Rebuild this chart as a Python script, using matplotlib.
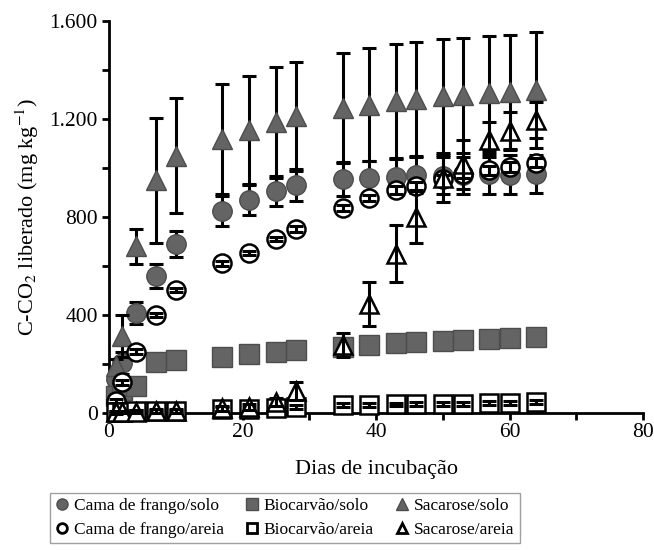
import matplotlib
matplotlib.use("Agg")
from matplotlib import pyplot as plt
from matplotlib.lines import Line2D
from matplotlib.ticker import MultipleLocator, FuncFormatter

plt.rcParams['font.family'] = ['Liberation Serif', 'DejaVu Serif']
plt.rcParams['mathtext.fontset'] = 'stix'

# dias de incubação
dias = [1, 2, 4, 7, 10, 17, 21, 25, 28, 35, 39, 43, 46, 50, 53, 57, 60, 64]

cama_solo = [140, 205, 410, 558, 690, 826, 869, 906, 930, 955, 959, 965, 970, 968, 970, 975, 972, 975]
cama_solo_err = [30, 45, 45, 49, 53, 61, 61, 61, 65, 70, 70, 72, 74, 75, 76, 80, 80, 78]

bio_solo = [70, 95, 110, 208, 218, 230, 241, 249, 257, 270, 277, 285, 288, 294, 297, 301, 305, 311]
bio_solo_err = [8, 8, 8, 10, 10, 10, 10, 10, 10, 12, 12, 12, 12, 12, 12, 12, 12, 12]

sac_solo = [190, 315, 680, 950, 1050, 1118, 1155, 1186, 1210, 1245, 1258, 1273, 1280, 1292, 1296, 1305, 1308, 1318]
sac_solo_err = [30, 85, 70, 255, 235, 226, 222, 225, 222, 226, 230, 232, 233, 233, 234, 235, 236, 236]

cama_areia = [50, 125, 250, 400, 502, 612, 653, 710, 751, 836, 877, 910, 926, 955, 975, 990, 1005, 1022]
cama_areia_err = [8, 10, 10, 10, 10, 10, 10, 10, 12, 12, 12, 15, 15, 18, 18, 20, 20, 20]

bio_areia = [5, 6, 7, 8, 9, 15, 17, 20, 25, 32, 33, 35, 36, 38, 38, 40, 41, 44]
bio_areia_err = [5, 5, 5, 5, 5, 8, 8, 8, 8, 8, 8, 8, 8, 8, 8, 8, 8, 8]

sac_areia = [3, 4, 6, 8, 10, 20, 25, 45, 90, 278, 445, 650, 800, 958, 1015, 1116, 1152, 1195]
sac_areia_err = [5, 5, 5, 8, 8, 10, 12, 15, 35, 48, 88, 116, 105, 95, 100, 71, 75, 73]

labels = ['Cama de frango/solo', 'Biocarvão/solo', 'Sacarose/solo',
          'Cama de frango/areia', 'Biocarvão/areia', 'Sacarose/areia']

GRAY = '#646464'
GRAY_EDGE = '#4d4d4d'

fig = plt.figure(figsize=(6.54, 5.5), dpi=100)
ax = fig.add_axes([0.1667, 0.249, 0.8165, 0.713])

series = [
    (cama_solo, cama_solo_err, 'o', True),
    (bio_solo, bio_solo_err, 's', True),
    (sac_solo, sac_solo_err, '^', True),
    (cama_areia, cama_areia_err, 'o', False),
    (bio_areia, bio_areia_err, 's', False),
    (sac_areia, sac_areia_err, '^', False),
]

z = 3
for vals, err, mk, filled in series:
    if filled:
        # barras por baixo dos marcadores cheios
        ax.errorbar(dias, vals, yerr=err, fmt='none', ecolor='black', elinewidth=2.2,
                    capsize=5, capthick=2.2, zorder=z, clip_on=False)
        ax.plot(dias, vals, linestyle='none', marker=mk, markersize=14,
                markerfacecolor=GRAY, markeredgecolor=GRAY_EDGE, markeredgewidth=1,
                zorder=z + 0.5, clip_on=False)
    else:
        # marcadores vazios com as barras por cima
        ax.plot(dias, vals, linestyle='none', marker=mk, markersize=13,
                markerfacecolor='white', markeredgecolor='black', markeredgewidth=1.8,
                zorder=z, clip_on=False)
        ax.errorbar(dias, vals, yerr=err, fmt='none', ecolor='black', elinewidth=2.2,
                    capsize=5, capthick=2.2, zorder=z + 0.5, clip_on=False)
    z += 1

ax.set_xlim(0, 80)
ax.set_ylim(0, 1600)
ax.xaxis.set_major_locator(MultipleLocator(20))
ax.xaxis.set_minor_locator(MultipleLocator(10))
ax.yaxis.set_major_locator(MultipleLocator(400))
ax.yaxis.set_minor_locator(MultipleLocator(200))
ax.yaxis.set_major_formatter(FuncFormatter(lambda v, p: f'{int(v):,}'.replace(',', '.')))

for side in ('top', 'right'):
    ax.spines[side].set_visible(False)
for side in ('left', 'bottom'):
    ax.spines[side].set_linewidth(2)
    ax.spines[side].set_zorder(1)

ax.tick_params(which='both', direction='out', width=2, length=5, labelsize=15.5, color='black')
ax.tick_params(axis='y', pad=3)
ax.tick_params(axis='x', pad=2)

ax.set_xlabel('Dias de incubação', fontsize=16, labelpad=13)
ax.set_ylabel('C-CO$_2$ liberado (mg kg$^{-1}$)', fontsize=16, labelpad=6)

def handle(mk, filled):
    if filled:
        return Line2D([], [], linestyle='none', marker=mk, markersize=8,
                      markerfacecolor=GRAY, markeredgecolor=GRAY_EDGE)
    return Line2D([], [], linestyle='none', marker=mk, markersize=7,
                  markerfacecolor='white', markeredgecolor='black', markeredgewidth=2)

hs = [handle(mk, f) for _, _, mk, f in series]
# ncol=3 preenche por coluna
order = [0, 3, 1, 4, 2, 5]
leg = fig.legend([hs[i] for i in order], [labels[i] for i in order],
                 loc='upper left', bbox_to_anchor=(0.076, 0.104), ncol=3,
                 fontsize=12.5, frameon=True, fancybox=False, edgecolor='#888888',
                 borderaxespad=0, handlelength=0.8, handletextpad=0.3,
                 columnspacing=1.2, labelspacing=0.45, borderpad=0.3)
leg.get_frame().set_linewidth(1)

fig.savefig('out.png', dpi=100)
